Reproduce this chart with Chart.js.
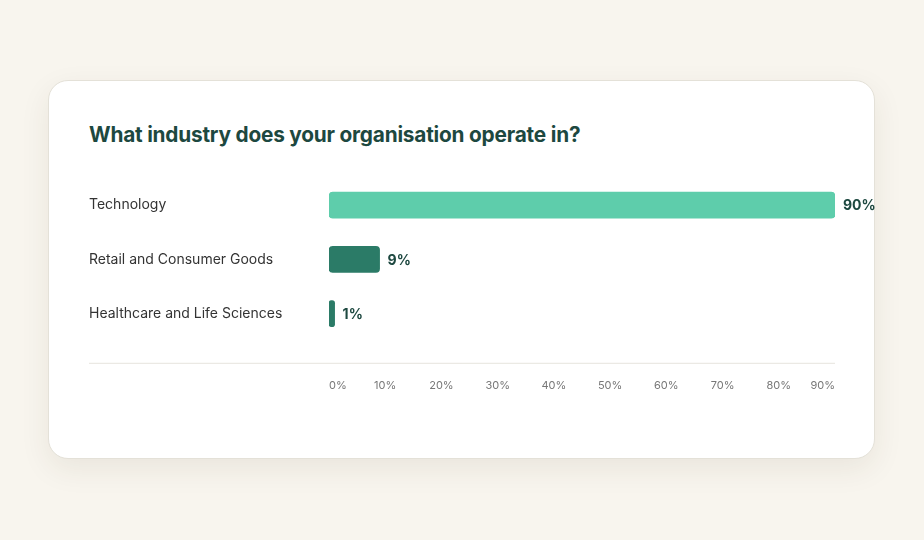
<!DOCTYPE html>
<html>
<head>
<meta charset="utf-8">
<title>Industry</title>
<script src="https://cdn.jsdelivr.net/npm/chart.js@4.4.1/dist/chart.umd.min.js"></script>
<style>
    html, body {
        margin: 0;
        padding: 0;
        background: #f8f5ee;
        font-family: Inter, "Noto Sans", sans-serif;
    }
    .card {
        position: absolute;
        left: 48px;
        top: 80px;
        width: 825px;
        height: 377px;
        background: #ffffff;
        border: 1px solid #e4e1d8;
        border-radius: 20px;
        box-shadow: 0 10px 30px rgba(60, 50, 30, 0.08);
    }
    .card h2 {
        position: absolute;
        left: 40px;
        top: 41px;
        margin: 0;
        font-size: 20.8px;
        font-weight: 700;
        color: #1d4840;
        letter-spacing: -0.2px;
    }
    .chart-wrap {
        position: absolute;
        left: 40px;
        top: 84px;
        width: 791px;
        height: 265px;
    }
</style>
</head>
<body>
<div class="card">
    <h2>What industry does your organisation operate in?</h2>
    <div class="chart-wrap"><canvas id="industryChart"></canvas></div>
</div>
<script>
// Survey data
const industries = ['Technology', 'Retail and Consumer Goods', 'Healthcare and Life Sciences'];
const shares = [90, 9, 1];
const barColors = ['#5ecdab', '#2b7b67', '#2b7b67'];
const tickValues = [0, 10, 20, 30, 40, 50, 60, 70, 80, 90];

// value labels at the end of each bar
const valueLabels = {
    id: 'valueLabels',
    afterDatasetsDraw(chart) {
        const ctx = chart.ctx;
        const meta = chart.getDatasetMeta(0);
        ctx.save();
        ctx.font = 'bold 14px Inter, "Noto Sans", sans-serif';
        ctx.fillStyle = '#1d4840';
        ctx.textBaseline = 'middle';
        meta.data.forEach((bar, i) => {
            ctx.fillText(shares[i] + '%', bar.x + 8, bar.y + 1);
        });
        ctx.restore();
    }
};

// divider line under the bars, full card width
const dividerLine = {
    id: 'dividerLine',
    beforeDraw(chart) {
        const ctx = chart.ctx;
        const y = chart.chartArea.bottom + 22.5;
        ctx.save();
        ctx.strokeStyle = '#e6e4dd';
        ctx.lineWidth = 1;
        ctx.beginPath();
        ctx.moveTo(0, y);
        ctx.lineTo(chart.chartArea.right, y);
        ctx.stroke();
        ctx.restore();
    }
};

document.addEventListener('DOMContentLoaded', function() {
    const ctx = document.getElementById('industryChart');
    new Chart(ctx, {
        type: 'bar',
        data: {
            labels: industries,
            datasets: [{
                data: shares,
                backgroundColor: barColors,
                borderRadius: 4,
                borderSkipped: false,
                barThickness: 26
            }]
        },
        options: {
            indexAxis: 'y',
            responsive: true,
            maintainAspectRatio: false,
            animation: false,
            layout: {
                padding: { top: 13, right: 45, bottom: 0, left: 0 }
            },
            plugins: {
                legend: { display: false },
                tooltip: { enabled: false }
            },
            scales: {
                x: {
                    min: 0,
                    max: 90,
                    afterBuildTicks(axis) {
                        axis.ticks = tickValues.map(v => ({ value: v }));
                    },
                    grid: { display: false, drawTicks: false },
                    border: { display: false },
                    ticks: {
                        align: 'inner',
                        padding: 38,
                        color: '#777777',
                        font: { family: 'Inter, "Noto Sans", sans-serif', size: 11 },
                        callback: v => v + '%'
                    }
                },
                y: {
                    afterFit(axis) {
                        axis.width = 240;
                    },
                    grid: { display: false, drawTicks: false },
                    border: { display: false },
                    ticks: {
                        crossAlign: 'far',
                        padding: 0,
                        color: '#333333',
                        font: { family: 'Inter, "Noto Sans", sans-serif', size: 14 }
                    }
                }
            }
        },
        plugins: [valueLabels, dividerLine]
    });
});
</script>
</body>
</html>
